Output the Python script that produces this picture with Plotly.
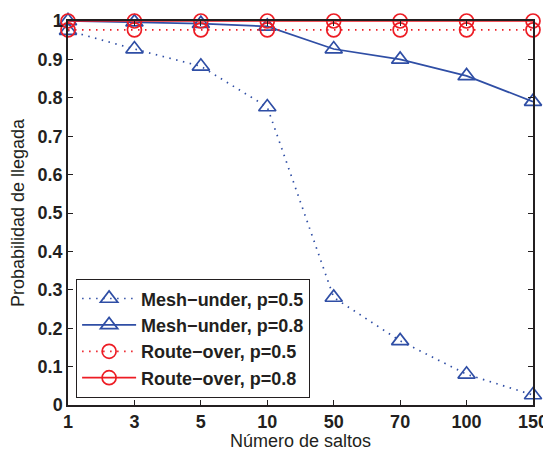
import plotly.graph_objects as go

categories = ["1", "3", "5", "10", "50", "70", "100", "150"]
mesh_p05 = [0.975, 0.927, 0.882, 0.776, 0.28, 0.167, 0.08, 0.026]
mesh_p08 = [1.0, 0.997, 0.993, 0.986, 0.927, 0.90, 0.857, 0.79]
route_p05 = [0.977] * 8
route_p08 = [1.0] * 8
yticks = [0, 0.1, 0.2, 0.3, 0.4, 0.5, 0.6, 0.7, 0.8, 0.9, 1]
ytick_labels = ["0", "0.1", "0.2", "0.3", "0.4", "0.5", "0.6", "0.7", "0.8", "0.9", "1"]

xs = list(range(1, len(categories) + 1))
BLUE = "#2F4EA5"
RED = "#ED1C24"
INK = "#231F20"

series = [
    ("Mesh\u2212under, p=0.5", mesh_p05, BLUE, "1.5px,5.5px", "triangle-up-open", 15),
    ("Mesh\u2212under, p=0.8", mesh_p08, BLUE, "solid", "triangle-up-open", 15),
    ("Route\u2212over, p=0.5", route_p05, RED, "1.5px,5.5px", "circle-open", 14),
    ("Route\u2212over, p=0.8", route_p08, RED, "solid", "circle-open", 14),
]

fig = go.Figure()
for name, ys, color, dash, sym, msize in series:
    fig.add_trace(go.Scatter(
        x=xs, y=ys, name=name, mode="lines+markers",
        line=dict(color=color, width=1.7, dash=dash),
        marker=dict(symbol=sym, size=msize, color=color, line=dict(width=1.7, color=color)),
        cliponaxis=False,
    ))

# page body has an 8px default margin, so the figure is 8px smaller
fig.update_layout(
    template="none",
    width=543, height=443,
    margin=dict(l=60, r=18, t=13, b=46, autoexpand=False),
    paper_bgcolor="white", plot_bgcolor="white",
    font=dict(family="Liberation Sans, Arial, sans-serif", color=INK),
    showlegend=True,
    legend=dict(
        x=0.017, y=0.018, xanchor="left", yanchor="bottom",
        bgcolor="white", bordercolor=INK, borderwidth=1.2,
        font=dict(size=18, family="Liberation Sans, Arial, sans-serif", color=INK, weight="bold"),
        tracegroupgap=0, itemwidth=54,
    ),
    xaxis=dict(
        automargin=False,
        range=[1, 8], tickmode="array", tickvals=xs, ticktext=categories,
        ticks="inside", ticklen=5, tickcolor=INK,
        showline=True, linecolor=INK, linewidth=1.5, mirror="ticks",
        showgrid=False, zeroline=False,
        tickfont=dict(size=18, weight="bold", color=INK),
        title=dict(text="Número de saltos", font=dict(size=18, color=INK)),
    ),
    yaxis=dict(
        automargin=False,
        range=[0, 1], tickmode="array", tickvals=yticks, ticktext=ytick_labels,
        ticks="inside", ticklen=5, tickcolor=INK,
        showline=True, linecolor=INK, linewidth=1.5, mirror="ticks",
        showgrid=False, zeroline=False,
        tickfont=dict(size=18, weight="bold", color=INK),
        title=dict(text="Probabilidad de llegada", font=dict(size=18, color=INK)),
    ),
)

fig.write_html("out.html")
